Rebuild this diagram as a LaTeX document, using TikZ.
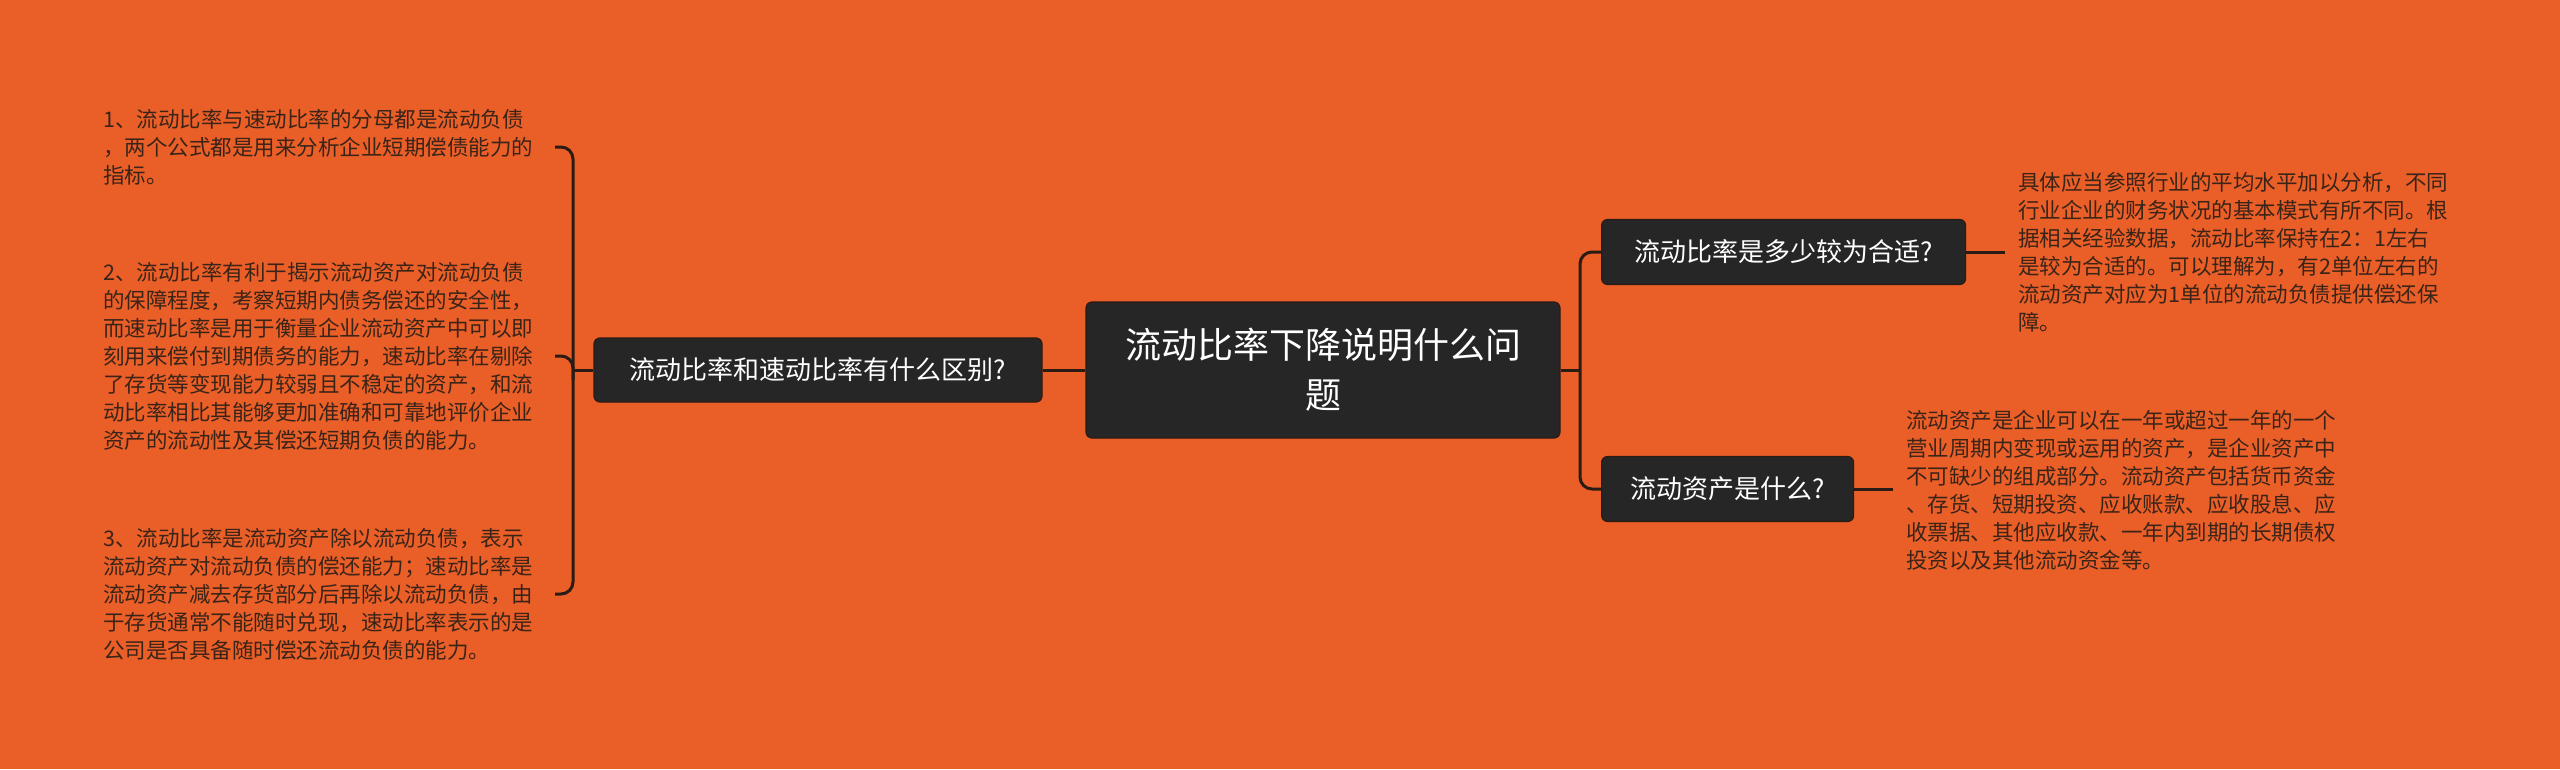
\documentclass[tikz,border=0pt]{standalone}
\usepackage{fontspec}
\setmainfont{Noto Sans CJK SC}
\definecolor{bg}{HTML}{EA5E28}
\definecolor{nodefill}{HTML}{262626}
\definecolor{leaftext}{HTML}{3A2418}
\definecolor{linec}{HTML}{2A1C14}
\tikzset{
  x=1pt,y=-1pt,
  topic/.style={draw=linec,line width=1.2pt,fill=nodefill,rounded corners=6pt,text=white,align=center},
  leaf/.style={anchor=west,inner sep=0pt,align=left,text=leaftext,font=\fontsize{21.5}{28}\selectfont},
  conn/.style={draw=linec,line width=3pt,rounded corners=12pt},
}
\begin{document}
\begin{tikzpicture}
\fill[bg] (0,0) rectangle (2560,769);
\useasboundingbox (0,0) rectangle (2560,769);
\node[topic,minimum width=474,minimum height=136,font=\fontsize{36}{50}\selectfont] (c) at (1323,370) {流动比率下降说明什么问\\题};
\node[topic,minimum width=448,minimum height=64,font=\fontsize{26}{30}\selectfont] (l) at (818,370) {流动比率和速动比率有什么区别?};
\node[topic,minimum width=364,minimum height=65,font=\fontsize{26}{30}\selectfont,anchor=west] (r1) at (1601,252) {流动比率是多少较为合适?};
\node[topic,minimum width=252,minimum height=65,font=\fontsize{26}{30}\selectfont,anchor=west] (r2) at (1601,489) {流动资产是什么?};

\node[leaf] (t1) at (103,147) {1、流动比率与速动比率的分母都是流动负债\\，两个公式都是用来分析企业短期偿债能力的\\指标。};
\node[leaf] (t2) at (103,356) {2、流动比率有利于揭示流动资产对流动负债\\的保障程度，考察短期内债务偿还的安全性，\\而速动比率是用于衡量企业流动资产中可以即\\刻用来偿付到期债务的能力，速动比率在剔除\\了存货等变现能力较弱且不稳定的资产，和流\\动比率相比其能够更加准确和可靠地评价企业\\资产的流动性及其偿还短期负债的能力。};
\node[leaf] (t3) at (103,594) {3、流动比率是流动资产除以流动负债，表示\\流动资产对流动负债的偿还能力；速动比率是\\流动资产减去存货部分后再除以流动负债，由\\于存货通常不能随时兑现，速动比率表示的是\\公司是否具备随时偿还流动负债的能力。};
\node[leaf] (t4) at (2018,252) {具体应当参照行业的平均水平加以分析，不同\\行业企业的财务状况的基本模式有所不同。根\\据相关经验数据，流动比率保持在2：1左右\\是较为合适的。可以理解为，有2单位左右的\\流动资产对应为1单位的流动负债提供偿还保\\障。};
\node[leaf] (t5) at (1906,490) {流动资产是企业可以在一年或超过一年的一个\\营业周期内变现或运用的资产，是企业资产中\\不可缺少的组成部分。流动资产包括货币资金\\、存货、短期投资、应收账款、应收股息、应\\收票据、其他应收款、一年内到期的长期债权\\投资以及其他流动资金等。};

\coordinate (b1) at (555,147);
\coordinate (b2) at (555,356);
\coordinate (b3) at (555,594);
\coordinate (jl) at (573,370);
\coordinate (jr) at (1580,370);
\draw[conn] (b1) -- (573,147) -- (573,594) -- (b3);
\draw[conn] (b2) -- (573,356) -- (573,380);
\draw[conn] (l.west) -- (jl);
\draw[conn] (c.west) -- (l.east);
\draw[conn] (c.east) -- (jr);
\draw[conn] (r1.west) -- (1580,252) -- (1580,489) -- (r2.west);
\draw[conn] (r1.east) -- (2005,252);
\draw[conn] (r2.east) -- (1893,489);
\end{tikzpicture}
\end{document}
